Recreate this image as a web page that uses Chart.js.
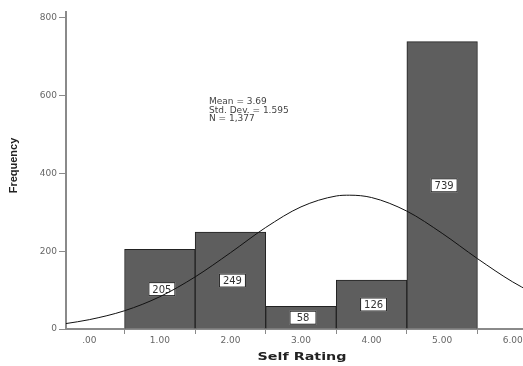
<!DOCTYPE html>
<html>
<head>
<meta charset="utf-8">
<script src="https://cdn.jsdelivr.net/npm/chart.js@4/dist/chart.umd.min.js"></script>
<style>
  html, body { margin: 0; padding: 0; background: #fff; overflow: hidden; }
  #wrap { width: 523px; height: 366px; overflow: hidden; }
</style>
</head>
<body>
<div id="wrap"><canvas id="graphe" width="548" height="366"></canvas></div>
<script>
// histogram bins (self rating) and counts
const ratings = [1, 2, 3, 4, 5];
const counts = [205, 249, 58, 126, 739];

// normal curve
const curveX = [-0.33, 0, 0.5, 1, 1.5, 2, 2.5, 3, 3.5, 3.69, 4, 4.5, 5, 5.5, 6, 6.5];
const curveY = [14, 24, 47, 83, 134, 196, 261, 314, 342, 344, 338, 303, 246, 181, 121, 73];

const xTicks = [0, 1, 2, 3, 4, 5, 6];
const yTicks = [0, 200, 400, 600, 800];
const statLines = ["Mean = 3.69", "Std. Dev. = 1.595", "N = 1,377"];
const xTitle = "Self Rating";
const yTitle = "Frequency";

const barColor = "#5e5e5e";
const axisColor = "#8a8a8a";
const txtColor = "#666";
const dv = "'DejaVu Sans', sans-serif";

const barData = ratings.map((r, i) => ({ x: r, y: counts[i] }));
const curveData = curveX.map((x, i) => ({ x: x, y: curveY[i] }));

// white boxes with counts, drawn at bar mid height
const boxLabels = {
  id: "boxLabels",
  afterDatasetDraw(chart, args) {
    if (args.index !== 1) return;
    const ctx = chart.ctx;
    const y = chart.scales.y;
    ctx.save();
    ctx.font = "10px " + dv;
    ctx.textAlign = "center";
    ctx.textBaseline = "middle";
    args.meta.data.forEach((bar, i) => {
      const cx = bar.x + 2;
      const cy = y.getPixelForValue(counts[i] / 2);
      const w = 27, h = 14;
      ctx.fillStyle = "#fff";
      ctx.fillRect(cx - w / 2, cy - h / 2, w, h);
      ctx.strokeStyle = "#222";
      ctx.lineWidth = 1;
      ctx.strokeRect(cx - w / 2 + 0.5, cy - h / 2 + 0.5, w - 1, h - 1);
      ctx.fillStyle = "#333";
      ctx.fillText(String(counts[i]), cx, cy + 1);
    });
    ctx.restore();
  }
};

// stats text and axis titles
const extraText = {
  id: "extraText",
  afterDraw(chart) {
    const ctx = chart.ctx;
    const a = chart.chartArea;
    ctx.save();
    ctx.font = "9px " + dv;
    ctx.fillStyle = "#444";
    ctx.textBaseline = "middle";
    statLines.forEach((s, i) => ctx.fillText(s, 209, 102 + i * 8.4));

    ctx.fillStyle = "#222";
    ctx.textAlign = "center";
    ctx.save();
    ctx.translate(302, 357);
    ctx.scale(1.3, 1);
    ctx.font = "bold 11px " + dv;
    ctx.fillText(xTitle, 0, 0);
    ctx.restore();

    ctx.save();
    ctx.translate(14, (a.top + a.bottom) / 2 - 5);
    ctx.rotate(-Math.PI / 2);
    ctx.font = "bold 11px 'Liberation Sans', Arial, sans-serif";
    ctx.fillText(yTitle, 0, 0);
    ctx.restore();
    ctx.restore();
  }
};

const ctx = document.getElementById("graphe");
new Chart(ctx, {
  data: {
    datasets: [
      {
        type: "line",
        data: curveData,
        borderColor: "#111",
        borderWidth: 1,
        pointRadius: 0,
        cubicInterpolationMode: "monotone",
        fill: false
      },
      {
        type: "bar",
        data: barData,
        backgroundColor: barColor,
        borderColor: "#222",
        borderWidth: 1,
        barPercentage: 1,
        categoryPercentage: 1,
        borderSkipped: "bottom"
      }
    ]
  },
  options: {
    responsive: false,
    animation: false,
    layout: { padding: { top: 12, left: 0, right: 0, bottom: 0 } },
    plugins: { legend: { display: false }, tooltip: { enabled: false } },
    scales: {
      x: {
        type: "linear",
        min: -0.33,
        max: 6.5,
        offset: false,
        afterBuildTicks: s => { s.ticks = xTicks.map(v => ({ value: v })); },
        afterFit: s => { s.height = 37; },
        ticks: {
          autoSkip: false,
          maxRotation: 0,
          padding: 1,
          color: txtColor,
          font: { size: 9, family: dv },
          callback: v => v === 0 ? ".00" : v.toFixed(2)
        },
        grid: { display: true, drawOnChartArea: false, drawTicks: true, tickLength: 5, color: axisColor },
        border: { display: true, color: axisColor, width: 2 }
      },
      y: {
        min: 0,
        max: 815,
        afterBuildTicks: s => { s.ticks = yTicks.map(v => ({ value: v })); },
        afterFit: s => { s.width = 66; },
        ticks: {
          padding: 2,
          color: txtColor,
          font: { size: 9, family: dv }
        },
        grid: { display: true, drawOnChartArea: false, drawTicks: true, tickLength: 7, color: axisColor },
        border: { display: true, color: axisColor, width: 2 }
      }
    }
  },
  plugins: [boxLabels, extraText]
});
</script>
</body>
</html>
